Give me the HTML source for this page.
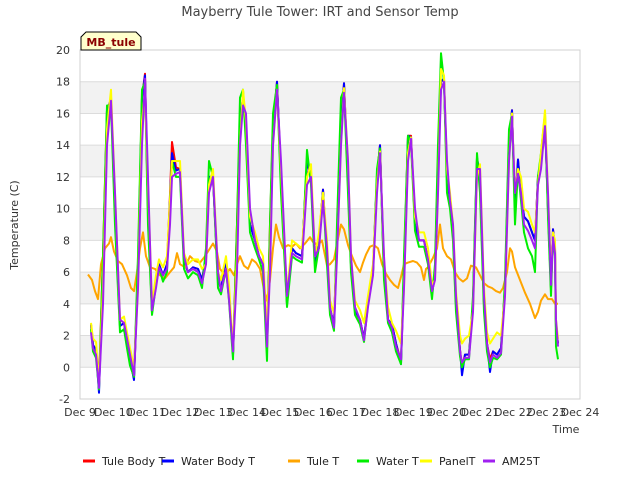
<!DOCTYPE html>
<html><head><meta charset="utf-8">
<style>
body{margin:0;background:#fff;font-family:"Liberation Sans","DejaVu Sans",sans-serif;}
svg text{font-family:"DejaVu Sans","Liberation Sans",sans-serif;}
</style></head>
<body>
<svg id="chart" width="640" height="480" viewBox="0 0 640 480" xmlns="http://www.w3.org/2000/svg">
<rect width="640" height="480" fill="#fff"/>
<text x="320" y="16" text-anchor="middle" font-size="13" fill="#444">Mayberry Tule Tower: IRT and Sensor Temp</text>
<g id="grid"></g>
<g id="series"></g>
<g id="axes"></g>
<text transform="translate(18,225) rotate(-90)" text-anchor="middle" font-size="11" fill="#333">Temperature (C)</text>
<text x="566" y="433" text-anchor="middle" font-size="11" fill="#333">Time</text>
<g>
<path d="M81,50 L81,37 L86,32 L136,32 L141,37 L141,50 Z" fill="#ffffcc" stroke="#000" stroke-width="1"/>
<text x="111" y="46" text-anchor="middle" font-size="11" font-weight="bold" fill="#8b0000">MB_tule</text>
</g>
<g id="legend"></g>
</svg>
<script>
const yTicks=[-2,0,2,4,6,8,10,12,14,16,18,20];
const xTickLabels=["Dec 9","Dec 10","Dec 11","Dec 12","Dec 13","Dec 14","Dec 15","Dec 16","Dec 17","Dec 18","Dec 19","Dec 20","Dec 21","Dec 22","Dec 23","Dec 24"];
const seriesNames=["Tule Body T","Water Body T","Tule T","Water T","PanelT","AM25T"];
const times=[0.33,0.39,0.48,0.57,0.69,0.81,0.93,1.05,1.2,1.32,1.41,1.5,1.62,1.74,1.86,1.95,2.04,2.16,2.28,2.37,2.49,2.61,2.7,2.76,2.88,3.0,3.12,3.24,3.39,3.54,3.66,3.78,3.87,3.99,4.14,4.23,4.38,4.47,4.59,4.71,4.8,4.89,4.98,5.1,5.25,5.37,5.49,5.61,5.7,5.79,5.91,6.03,6.21,6.36,6.48,6.66,6.81,6.93,7.05,7.17,7.29,7.41,7.5,7.62,7.71,7.83,7.92,8.04,8.13,8.25,8.4,8.52,8.64,8.79,8.91,9.0,9.12,9.24,9.36,9.48,9.63,9.72,9.84,9.93,10.05,10.17,10.32,10.44,10.56,10.65,10.74,10.83,10.92,11.01,11.1,11.19,11.28,11.4,11.46,11.55,11.67,11.79,11.91,12.0,12.12,12.21,12.3,12.39,12.51,12.63,12.75,12.87,12.96,13.05,13.14,13.23,13.32,13.44,13.56,13.65,13.74,13.83,13.95,14.04,14.13,14.19,14.25,14.28,14.34];
const tuleBody=[2.7,1.4,1.1,-1.0,7,16.2,16.9,10,2.6,2.8,1.6,0.5,-0.6,6,17,18.5,10,3.5,5.5,6.5,5.8,6.5,10.9,14.2,12.6,12.5,6.7,6.0,6.3,6.2,5.5,7,12,12,5.5,5,6.5,4.5,0.8,9,15.5,17,15,9,8,7,6.5,1.5,9,15,18,12,4,7.5,7.2,7,13,12,6.5,8,11.2,7,3.7,2.7,8,15,17.9,12,6.5,3.6,3,1.8,4,6,12,14,6,3,2.7,1.5,0.4,6,14.6,14.6,9,8,8,6.8,4.6,6,12.5,18,18.2,12,10.5,8.5,4,1.1,0,0.8,0.8,4,13.2,12,4,1.5,0.5,1,0.8,1.2,5,14,16.2,10,13.1,11,9.5,9.2,8.5,8,12,13,15.5,10,5,8.7,7.5,2.5,1.5];
const waterBody=[2.7,1.4,1.1,-1.6,6,16.2,16.9,10,2.6,2.8,1.6,0.5,-0.8,6,17,18.4,10,3.5,5.5,6.5,5.8,6.5,10.5,13.5,12.4,12.5,6.7,6.0,6.3,6.2,5.5,7,12,12,5.5,5,6.5,4.5,0.8,8,15.5,17,15,9,8,7,6.5,1.5,8,15,18,12,4,7.5,7.2,7,13,12,6.5,8,11.2,7,3.7,2.7,8,15,17.9,12,6.5,3.6,3,1.8,4,6,12,14,6,3,2.7,1.5,0.2,6,14.6,14.5,9,8,8,6.8,4.6,6,12,18,18.2,12,10.5,8.5,4,1.1,-0.5,0.8,0.8,4,13.2,12,4,1.5,-0.3,1,0.8,1.2,5,14,16.2,10,13.1,11,9.5,9.2,8.5,8,12,13,15.5,10,5,8.7,7.5,2.5,1.5];
const waterT=[2.4,1.0,0.6,-1.4,7,16.5,16.5,9,2.2,2.4,1.2,0.1,-0.6,7,17.5,18,9,3.3,5.2,6.3,5.4,6.0,10.5,13,12,12,6.2,5.6,6.0,5.8,5.0,7.5,13,12,5.0,4.6,6.2,4.2,0.5,9,17,17.5,14,8.5,7.5,6.8,6.0,0.4,9,16,17.8,11,3.8,7,6.8,6.6,13.7,11.5,6.0,7.6,11,6.5,3.3,2.3,9,17,17.5,11,6.0,3.3,2.7,1.6,4,6,12.5,13.8,5.5,2.8,2.2,1.0,0.2,7,14.6,14.2,8.6,7.6,7.6,6.5,4.3,6.5,14,19.8,18,11,10,8,3.5,0.7,0,0.5,0.5,4.5,13.5,11,3.5,1.0,0,0.6,0.5,0.8,5.5,15,16,9,12.5,10.5,8.5,7.5,7,6,12,13.5,16,9.5,4.5,8.3,7,1.3,0.5];
const panelT=[2.8,1.8,1.6,-1.0,5,15,17.5,11,3,3.2,2.2,1.2,0,5,15.5,17.4,11.5,4,5.8,6.8,6.3,7,10.5,13,13,13,7.2,6.5,6.8,6.8,6.2,6.5,11.5,12.5,6,5.5,7,5.2,1.2,7,14,17.5,15.5,9.5,8.5,7.5,7,2.3,7,14,17.5,12.5,4.6,8,7.8,7.5,12,12.8,7,8.5,11,8,4.2,3.4,7,14,17.6,13,7,4.2,3.6,2.8,4.5,6.5,11.5,13.6,6.8,3.8,2.8,2.3,1.5,5,13.5,14.5,9.5,8.5,8.5,7.5,5.2,5.5,11,18.8,18.4,12.5,11,9,4.8,2.0,1.5,1.8,2.0,3.5,12,12.8,5,2.2,1.5,1.8,2.2,2.0,4.5,13,16,11,12.5,12,10,9.8,9,8.5,11.5,13.5,16.2,11,6,8.5,8,3,1.8];
const am25T=[2.2,1.2,0.8,-1.3,4,14,16.8,11,3,2.8,1.8,0.8,-0.5,5,14,18.2,12,3.6,5,6.3,5.8,6.2,9,12,12.2,12.3,7,6.0,6.2,6.0,5.3,6.5,11,12,6,4.8,6.2,4.3,1.0,6,14,16.5,16,10,8,7,6.5,1.3,6,14,17.5,13,4.5,7.2,7,6.8,11.5,12,7,7.5,10.5,7.5,3.8,2.5,7,14,17.3,13,7,3.8,3,1.7,3.8,5.8,11,13.5,7,3,2.5,1.3,0.5,5,13,14.4,10,8,8,6.8,4.8,5.5,11,17.5,18,13,10.5,9,4.5,1.0,0.3,0.6,0.6,3.5,12.5,12.5,4.5,1.5,0.3,0.8,0.6,0.9,4.5,13,15.8,11,12.2,11,9,8.6,8,7.5,11.5,12.5,15.2,11,5.2,8.2,7.2,3,1.3];
const tuleTimes=[0.24,0.36,0.45,0.54,0.63,0.75,0.87,0.93,1.02,1.14,1.26,1.41,1.53,1.62,1.71,1.8,1.89,1.98,2.1,2.25,2.4,2.55,2.7,2.82,2.91,3.0,3.15,3.3,3.45,3.6,3.75,3.87,3.99,4.11,4.2,4.35,4.5,4.62,4.71,4.8,4.92,5.04,5.16,5.28,5.4,5.52,5.61,5.7,5.79,5.88,5.97,6.09,6.24,6.36,6.48,6.6,6.75,6.9,6.99,7.14,7.26,7.41,7.5,7.62,7.71,7.83,7.92,8.04,8.16,8.28,8.4,8.49,8.58,8.7,8.82,8.94,9.06,9.18,9.3,9.42,9.54,9.63,9.72,9.84,9.99,10.11,10.23,10.32,10.38,10.44,10.59,10.71,10.8,10.89,11.01,11.13,11.25,11.37,11.49,11.61,11.73,11.88,12.0,12.12,12.24,12.36,12.48,12.6,12.69,12.81,12.9,12.96,13.05,13.2,13.35,13.5,13.65,13.74,13.83,13.95,14.04,14.16,14.25,14.34];
const tuleT=[5.85,5.5,4.8,4.3,6.5,7.5,7.8,8.2,7.3,6.7,6.5,5.8,5.0,4.8,6,7.5,8.5,7,6.3,6.2,5.8,5.6,6,6.3,7.2,6.5,6.3,7,6.7,6.6,7,7.4,7.8,7.3,6.2,5.8,6.2,5.8,6.5,7,6.4,6.2,6.8,6.6,6.2,4.9,4.2,5.5,7.5,9,8.2,7.5,7.7,7.6,7.8,7.5,7.8,8.2,7.9,7.7,8,6.4,6.5,6.8,7.8,9,8.7,7.7,7,6.4,6,6.6,7.1,7.6,7.7,7.5,6.5,5.9,5.5,5.2,5,5.7,6.5,6.6,6.7,6.6,6.3,5.5,6.2,6.3,6.9,7.5,9,7.5,7,6.8,6,5.6,5.4,5.6,6.4,6.3,5.8,5.3,5.1,5,4.8,4.7,5,6,7.5,7.3,6.3,5.5,4.7,4,3.1,3.5,4.2,4.6,4.3,4.3,4,4];

const X0=80,X1=580,Y0=399,Y1=50;
const xScale=d=>X0+(d/15)*(X1-X0);
const yScale=v=>Y0-((v+2)/22)*(Y0-Y1);
const NS="http://www.w3.org/2000/svg";
function mk(tag,attrs,parent){const e=document.createElementNS(NS,tag);for(const k in attrs)e.setAttribute(k,attrs[k]);parent.appendChild(e);return e;}
const grid=document.getElementById('grid');
// bands
for(let v=0;v<20;v+=4){
  const r=mk('rect',{x:X0,y:yScale(v+2),width:X1-X0,height:yScale(v)-yScale(v+2),fill:'#f2f2f2'},grid);
  
  
}
yTicks.forEach(v=>{
  const l=mk('line',{x1:X0,x2:X1,y1:yScale(v),y2:yScale(v),stroke:'#dcdcdc','stroke-width':1},grid);
  
  
});
const axes=document.getElementById('axes');
const frame=mk('rect',{x:X0,y:Y1,width:X1-X0,height:Y0-Y1,fill:'none',stroke:'#d0d0d0'},axes);


yTicks.forEach(v=>{
  const t=mk('text',{x:X0-10,y:yScale(v)+4,'text-anchor':'end','font-size':11,fill:'#333'},axes);
  t.textContent=v;
  
  
});
xTickLabels.forEach((s,i)=>{
  const t=mk('text',{x:xScale(i),y:Y0+17,'text-anchor':'middle','font-size':11,fill:'#333'},axes);
  t.textContent=s;
  
  
});
const colors=["#ff0000","#0000ff","#ffa500","#00ee00","#ffff00","#a020f0"];
const data=[[times,tuleBody],[times,waterBody],[tuleTimes,tuleT],[times,waterT],[times,panelT],[times,am25T]];
const sg=document.getElementById('series');
data.forEach((d,i)=>{
  const pts=d[0].map((t,j)=>xScale(t).toFixed(1)+','+yScale(d[1][j]).toFixed(1)).join(' ');
  const p=mk('polyline',{points:pts,fill:'none',stroke:colors[i],'stroke-width':2,'stroke-linejoin':'round'},sg);
  
  
});
const lg=document.getElementById('legend');
const lx=[83,162,288,357,420,483];
seriesNames.forEach((s,i)=>{
  const g=mk('g',{},lg);
  
  
  mk('line',{x1:lx[i],x2:lx[i]+12,y1:461,y2:461,stroke:colors[i],'stroke-width':3},g);
  const t=mk('text',{x:lx[i]+19,y:465,'font-size':11,fill:'#222'},g);
  t.textContent=s;
});
</script>
</body></html>
